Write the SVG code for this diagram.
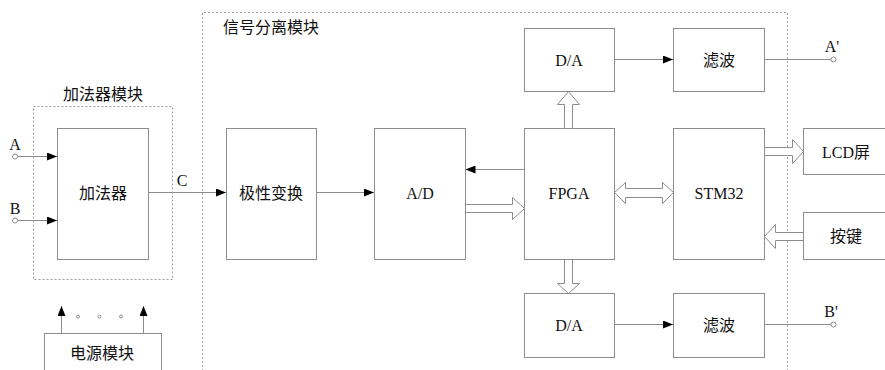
<svg xmlns="http://www.w3.org/2000/svg" width="885" height="370" viewBox="0 0 885 370">
<style>
.box{fill:#fff;stroke:#8c8c8c;stroke-width:1}
.dash{fill:none;stroke:#a0a0a0;stroke-width:1;stroke-dasharray:2,2}
.ln{fill:none;stroke:#8c8c8c;stroke-width:1}
.hol{fill:#fff;stroke:#8c8c8c;stroke-width:1;stroke-linejoin:miter}
.t{font-family:"Liberation Serif","Noto Sans CJK SC",serif;font-size:16px;fill:#111;text-anchor:middle;dominant-baseline:central}
.pin{fill:#fff;stroke:#8c8c8c;stroke-width:1}
</style>
<defs>
<marker id="ar" viewBox="0 0 10 8" refX="10" refY="4" markerWidth="10" markerHeight="8" markerUnits="userSpaceOnUse" orient="auto">
<path d="M0,0 L10,4 L0,8 Z" fill="#000"/>
</marker>
</defs>
<rect width="885" height="370" fill="#fff"/>

<g id="adder-module">
<rect class="dash" x="33.5" y="106.5" width="139" height="173"/>
<text class="t" x="103" y="94">加法器模块</text>
</g>
<g id="signal-module">
<path class="dash" d="M202.5,375 V12.5 H787.5 V375"/>
<text class="t" x="271" y="27">信号分离模块</text>
</g>

<g id="adder"><rect class="box" x="57.5" y="128.5" width="91" height="131"/><text class="t" x="103" y="193">加法器</text></g>
<g id="power"><rect class="box" x="44.5" y="333.5" width="117" height="45"/><text class="t" x="102" y="353">电源模块</text></g>
<g id="polarity"><rect class="box" x="226.5" y="128.5" width="90" height="131"/><text class="t" x="271" y="193">极性变换</text></g>
<g id="ad"><rect class="box" x="374.5" y="128.5" width="91" height="131"/><text class="t" x="420" y="193">A/D</text></g>
<g id="fpga"><rect class="box" x="524.5" y="128.5" width="90" height="131"/><text class="t" x="569" y="193">FPGA</text></g>
<g id="stm32"><rect class="box" x="673.5" y="128.5" width="91" height="131"/><text class="t" x="719" y="193">STM32</text></g>
<g id="da1"><rect class="box" x="524.5" y="28.5" width="90" height="63"/><text class="t" x="569" y="60">D/A</text></g>
<g id="filter1"><rect class="box" x="673.5" y="28.5" width="91" height="63"/><text class="t" x="719" y="60">滤波</text></g>
<g id="da2"><rect class="box" x="524.5" y="293.5" width="90" height="64"/><text class="t" x="569" y="325">D/A</text></g>
<g id="filter2"><rect class="box" x="673.5" y="293.5" width="91" height="64"/><text class="t" x="719" y="325">滤波</text></g>
<g id="lcd"><rect class="box" x="803.5" y="128.5" width="90" height="46"/><text class="t" x="846" y="152">LCD屏</text></g>
<g id="keys"><rect class="box" x="803.5" y="212.5" width="90" height="47"/><text class="t" x="846" y="236">按键</text></g>

<g id="connectors">
<line class="ln" x1="17.5" y1="156.5" x2="57" y2="156.5" marker-end="url(#ar)"/>
<line class="ln" x1="17.5" y1="220.5" x2="57" y2="220.5" marker-end="url(#ar)"/>
<circle class="pin" cx="15" cy="156.5" r="2.5"/>
<circle class="pin" cx="15" cy="220.5" r="2.5"/>
<text class="t" x="15" y="144">A</text>
<text class="t" x="15" y="208">B</text>
<line class="ln" x1="148.5" y1="192.5" x2="226" y2="192.5" marker-end="url(#ar)"/>
<text class="t" x="182" y="180">C</text>
<line class="ln" x1="316.5" y1="192.5" x2="374" y2="192.5" marker-end="url(#ar)"/>
<line class="ln" x1="524" y1="169.5" x2="465.5" y2="169.5" marker-end="url(#ar)"/>
<line class="ln" x1="614.5" y1="59.5" x2="673" y2="59.5" marker-end="url(#ar)"/>
<line class="ln" x1="614.5" y1="324.5" x2="673" y2="324.5" marker-end="url(#ar)"/>
<line class="ln" x1="764.5" y1="59.5" x2="831" y2="59.5"/>
<line class="ln" x1="764.5" y1="324.5" x2="831" y2="324.5"/>
<circle class="pin" cx="833.5" cy="59.5" r="2.5"/>
<circle class="pin" cx="833.5" cy="324.5" r="2.5"/>
<text class="t" x="832" y="46">A'</text>
<text class="t" x="831" y="311">B'</text>
<line class="ln" x1="61.5" y1="333" x2="61.5" y2="306" marker-end="url(#ar)"/>
<line class="ln" x1="143.5" y1="333" x2="143.5" y2="306" marker-end="url(#ar)"/>
<circle class="pin" cx="78" cy="316.5" r="1.5"/>
<circle class="pin" cx="99.5" cy="316.5" r="1.5"/>
<circle class="pin" cx="121" cy="316.5" r="1.5"/>
<polygon class="hol" points="564.5,128.5 564.5,104.5 557.5,104.5 568.5,91.5 579.5,104.5 572.5,104.5 572.5,128.5"/>
<polygon class="hol" points="564.5,259.5 564.5,283.5 557.5,283.5 568.5,293.5 579.5,283.5 572.5,283.5 572.5,259.5"/>
<polygon class="hol" points="465.5,204.5 512.5,204.5 512.5,197.5 524.5,208.5 512.5,219.5 512.5,212.5 465.5,212.5"/>
<polygon class="hol" points="764.5,147.5 792.5,147.5 792.5,139.5 803.5,151.5 792.5,163.5 792.5,155.5 764.5,155.5"/>
<polygon class="hol" points="803.5,232.5 775.5,232.5 775.5,224.5 764.5,236.5 775.5,248.5 775.5,240.5 803.5,240.5"/>
<polygon class="hol" points="614.5,192.5 625.5,182.5 625.5,188.5 662.5,188.5 662.5,182.5 673.5,192.5 662.5,203.5 662.5,197.5 625.5,197.5 625.5,203.5"/>
</g>
</svg>
